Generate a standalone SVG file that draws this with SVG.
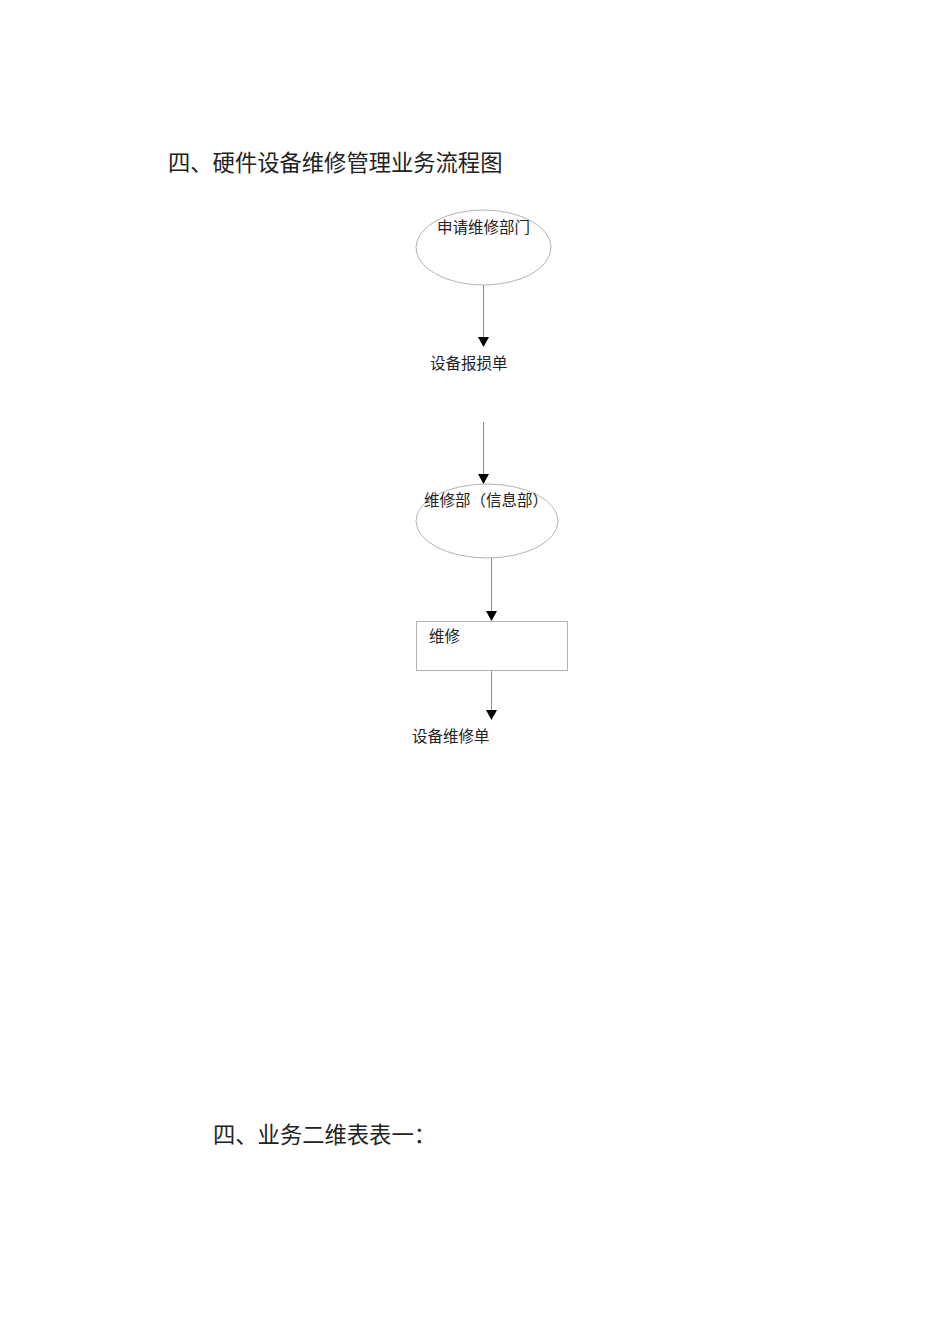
<svg xmlns="http://www.w3.org/2000/svg" width="950" height="1344" viewBox="0 0 950 1344">
<style>
.t{font-family:"Liberation Serif","Noto Sans CJK SC",serif;fill:#222;}
.h{font-size:22.3px;}
.l{font-size:15.5px;}
.n{fill:none;stroke:#b4b4b4;stroke-width:1;}
.c{stroke:#8c8c8c;stroke-width:1;fill:none;}
.a{fill:#000;}
</style>
<rect width="950" height="1344" fill="#fff"/>
<text class="t h" x="168" y="171">四、硬件设备维修管理业务流程图</text>
<g id="n1">
<ellipse class="n" cx="483.5" cy="247.5" rx="67.5" ry="37.5"/>
<text class="t l" x="437" y="233">申请维修部门</text>
</g>
<g id="n2">
<text class="t l" x="430" y="369">设备报损单</text>
</g>
<g id="n3">
<ellipse class="n" cx="487" cy="521" rx="71" ry="37"/>
<text class="t l" x="424" y="506">维修部（信息部）</text>
</g>
<g id="n4">
<rect class="n" x="416.5" y="621.5" width="151" height="49"/>
<text class="t l" x="429" y="642">维修</text>
</g>
<g id="n5">
<text class="t l" x="412" y="742">设备维修单</text>
</g>
<g id="connectors">
<line class="c" x1="483.5" y1="285" x2="483.5" y2="338"/>
<polygon class="a" points="478,337 489,337 483.5,347"/>
<line class="c" x1="483.5" y1="422" x2="483.5" y2="475"/>
<polygon class="a" points="478,474 489,474 483.5,484"/>
<line class="c" x1="491.5" y1="558" x2="491.5" y2="612"/>
<polygon class="a" points="486,611 497,611 491.5,621"/>
<line class="c" x1="491.5" y1="671" x2="491.5" y2="711"/>
<polygon class="a" points="486,710 497,710 491.5,720"/>
</g>
<text class="t h" x="213" y="1143">四、业务二维表表一：</text>
</svg>
